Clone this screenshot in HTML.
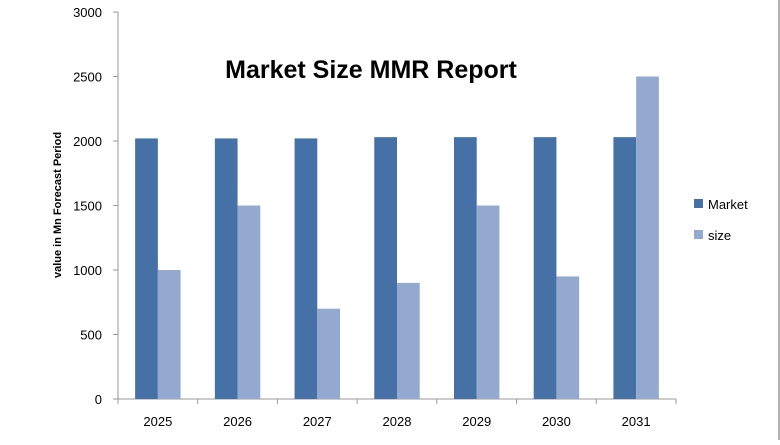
<!DOCTYPE html>
<html><head><meta charset="utf-8"><style>
body{margin:0;background:#fff;}
svg text{font-family:"Liberation Sans",sans-serif;}
</style></head><body>
<svg width="780" height="440" xmlns="http://www.w3.org/2000/svg">
<line x1="779" y1="0" x2="779" y2="440" stroke="#999" stroke-width="1.5"/>
<text x="371" y="78" font-size="25" font-weight="bold" text-anchor="middle" fill="#000">Market Size MMR Report</text>
<text transform="translate(61,205) rotate(-90)" font-size="11" font-weight="bold" text-anchor="middle">value in Mn  Forecast Period</text>
<g id="plot"></g>
<g>
<rect x="694" y="199" width="9" height="9" fill="#4571a7"/>
<text x="708" y="209" font-size="13">Market</text>
<rect x="694" y="230" width="9" height="9" fill="#93a9cf"/>
<text x="708" y="240" font-size="13">size</text>
</g>
</svg>
<script>
const categories=["2025","2026","2027","2028","2029","2030","2031"];
const marketValues=[2020,2020,2020,2030,2030,2030,2030];
const sizeValues=[1000,1500,700,900,1500,950,2500];
const yTicks=[0,500,1000,1500,2000,2500,3000];
const NS="http://www.w3.org/2000/svg";
const g=document.getElementById('plot');
const x0=118,x1=676,y0=399,y1=12,yMax=3000;
const catW=(x1-x0)/categories.length;
const y=v=>y0-(v/yMax)*(y0-y1);
function mk(t,a){const e=document.createElementNS(NS,t);for(const k in a)e.setAttribute(k,a[k]);g.appendChild(e);return e;}
let e=mk('line',{x1:x0,y1:y1,x2:x0,y2:y0,stroke:'#999','stroke-width':1});


e=mk('line',{x1:x0,y1:y0,x2:x1,y2:y0,stroke:'#999','stroke-width':1});


yTicks.forEach(v=>{
 const tk=mk('line',{x1:x0-5,y1:y(v),x2:x0,y2:y(v),stroke:'#999'});
 
 
 const t=mk('text',{x:x0-16,y:y(v)+5,'font-size':13,'text-anchor':'end'});
 t.textContent=v;
 
 
});
for(let i=0;i<=categories.length;i++){
 const tk=mk('line',{x1:x0+i*catW,y1:y0,x2:x0+i*catW,y2:y0+5,stroke:'#999'});
 
 
}
const bw=catW*0.285,off=catW*0.215;
categories.forEach((c,i)=>{
 const cx=x0+i*catW;
 const b1=mk('rect',{x:cx+off,y:y(marketValues[i]),width:bw,height:y0-y(marketValues[i]),fill:'#4571a7'});
 
 
 const b2=mk('rect',{x:cx+off+bw,y:y(sizeValues[i]),width:bw,height:y0-y(sizeValues[i]),fill:'#93a9cf'});
 
 
 const t=mk('text',{x:cx+catW/2,y:426,'font-size':13,'text-anchor':'middle'});
 t.textContent=c;
 
 
});
</script>
</body></html>
